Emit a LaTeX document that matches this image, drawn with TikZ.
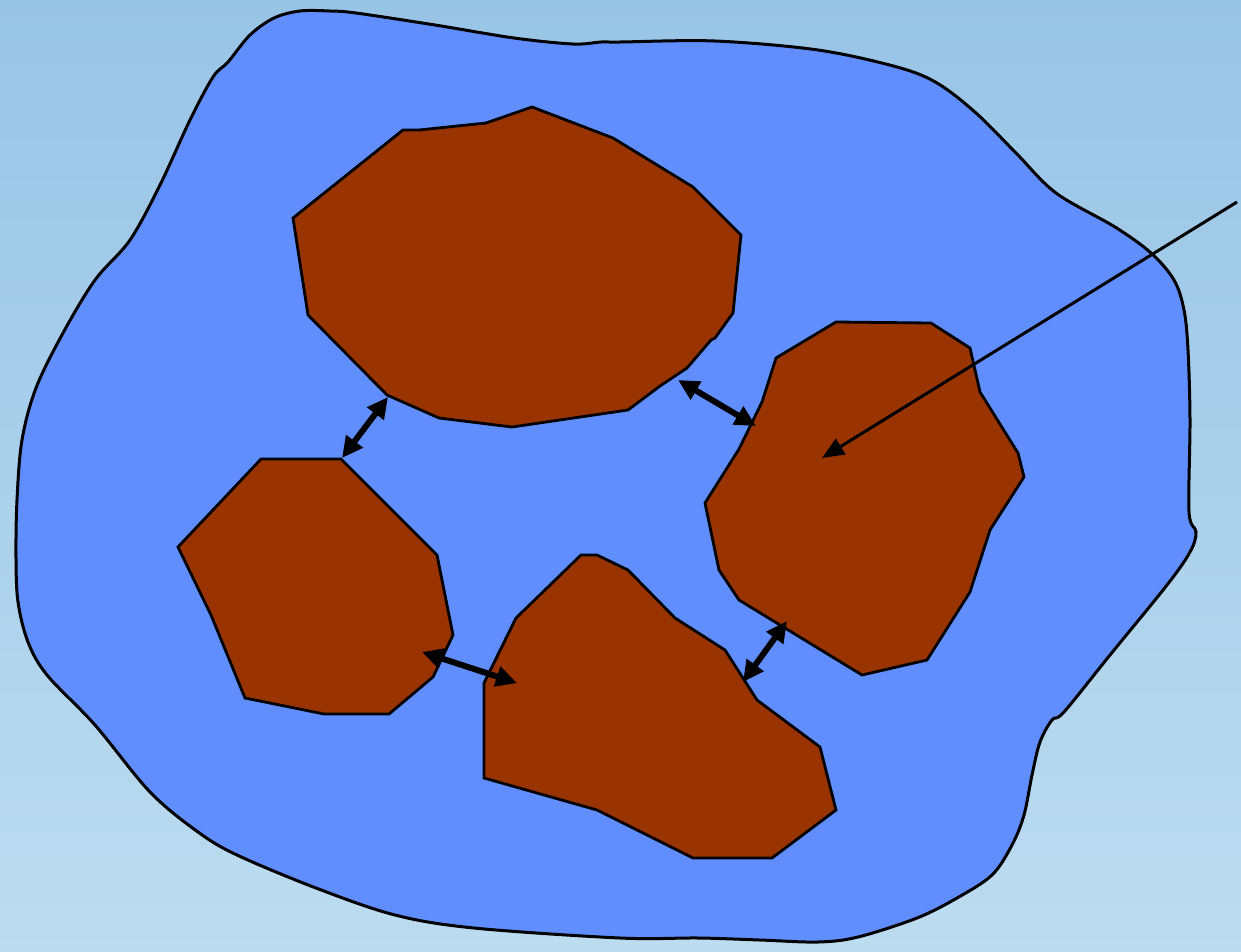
\documentclass[tikz,border=0pt]{standalone}
\usetikzlibrary{arrows.meta}
\definecolor{bgtop}{RGB}{152,196,230}
\definecolor{bgbot}{RGB}{188,220,240}
\definecolor{blobblue}{RGB}{97,142,255}
\definecolor{grain}{RGB}{153,51,0}
\tikzset{
  blob/.style={fill=blobblue,draw=black,line width=3pt},
  grainpoly/.style={fill=grain,draw=black,line width=2.8pt,line join=miter},
  bond/.style={line width=6pt,{Triangle[length=21pt,width=20pt]}-{Triangle[length=21pt,width=20pt]}},
  pointer/.style={line width=3pt,-{Triangle[length=22pt,width=18pt]}}
}
\begin{document}
\begin{tikzpicture}[x=1pt,y=-1pt]
\useasboundingbox (0,0) rectangle (1241,951);
\shade[top color=bgtop,bottom color=bgbot] (0,0) rectangle (1241,951);
% matrix blob
\draw[blob] plot[smooth cycle,tension=0.55] coordinates {
(300,11) (330,11) (356,13) (435,25) (514,38) (573,44) (601,42) (620,42) (715,41)
(818,50) (897,67) (937,83) (976,113) (1016,153) (1056,193) (1115,227)
(1151,253) (1174,280) (1184,310) (1188,350) (1190,420) (1189,512)
(1196,532) (1190,552) (1167,585) (1110,655) (1064,712) (1052,720)
(1040,742) (1032,775) (1024,815) (1012,845) (992,875) (957,898)
(917,918) (858,937) (818,942) (760,940) (699,938) (620,938) (474,928)
(395,915) (316,888) (237,855) (198,832) (150,792) (95,725) (47,675)
(28,642) (18,602) (16,558) (17,500) (22,440) (36,388) (63,333) (95,280)
(130,240) (160,185) (190,120) (213,77) (228,62) (250,35) (274,18)};
% grains
\draw[grainpoly] (293,218) -- (403,130) -- (419,130) -- (486,123) -- (532,107)
 -- (613,138) -- (693,187) -- (741,235) -- (733,313) -- (715,338) -- (711,340)
 -- (687,368) -- (660,386) -- (628,410) -- (512,427) -- (439,418) -- (387,395)
 -- (308,315) -- cycle;
\draw[grainpoly] (261,459) -- (341,459) -- (437,555) -- (453,635) -- (433,677)
 -- (389,714) -- (324,714) -- (245,698) -- (211,615) -- (178,547) -- cycle;
\draw[grainpoly] (484,683) -- (516,618) -- (581,555) -- (597,555) -- (628,570)
 -- (675,618) -- (725,650) -- (757,700) -- (820,747) -- (836,810) -- (772,858)
 -- (693,858) -- (597,810) -- (484,778) -- cycle;
\draw[grainpoly] (776,358) -- (836,322) -- (931,323) -- (970,348) -- (980,392)
 -- (1018,453) -- (1024,477) -- (990,530) -- (970,592) -- (927,660) -- (862,675)
 -- (739,600) -- (719,570) -- (705,503) -- (739,449) -- (762,402) -- cycle;
% bond end points
\coordinate (a1) at (388,397); \coordinate (a2) at (342,458);
\coordinate (b1) at (678,380); \coordinate (b2) at (756,426);
\coordinate (c1) at (422,652); \coordinate (c2) at (517,683);
\coordinate (d1) at (787,621); \coordinate (d2) at (743,682);
\coordinate (p0) at (1237,202); \coordinate (p1) at (822,458);
\draw[bond] (a1) -- (a2);
\draw[bond] (b1) -- (b2);
\draw[bond] (c1) -- (c2);
\draw[bond] (d1) -- (d2);
\draw[pointer] (p0) -- (p1);
\end{tikzpicture}
\end{document}
